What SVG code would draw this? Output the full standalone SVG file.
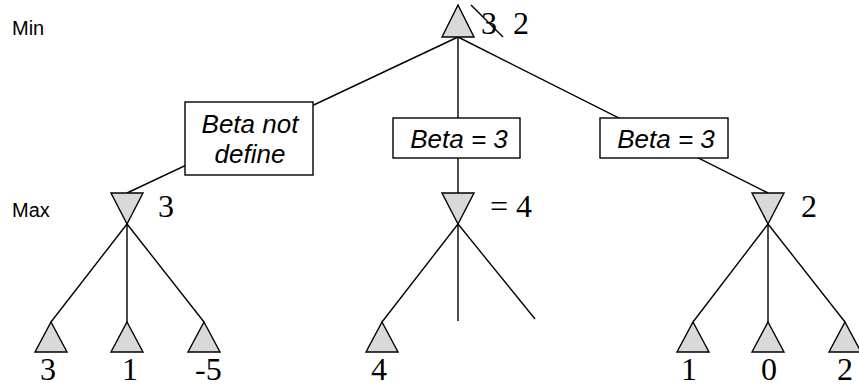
<svg xmlns="http://www.w3.org/2000/svg" width="859" height="387" viewBox="0 0 859 387">
<style>
.edge{stroke:#000;stroke-width:1.4;fill:none}
.tri{fill:#d9d9d9;stroke:#000;stroke-width:1.4;stroke-linejoin:miter}
.box{fill:#fff;stroke:#000;stroke-width:1.4}
.lab{font-family:"Liberation Sans",Arial,sans-serif;font-size:20px;fill:#000}
.bt{font-family:"Liberation Sans",Arial,sans-serif;font-style:italic;font-size:26px;fill:#000;text-anchor:middle}
.num{font-family:"Liberation Serif","Times New Roman",serif;font-size:32px;fill:#000}
</style>
<rect width="859" height="387" fill="#fff"/>
<text class="lab" x="12" y="35">Min</text>
<text class="lab" x="12" y="217">Max</text>
<g id="connectors">
<line class="edge" x1="458" y1="37" x2="127" y2="193"/>
<line class="edge" x1="458" y1="37" x2="458" y2="193"/>
<line class="edge" x1="458" y1="37" x2="768" y2="193"/>
<line class="edge" x1="127" y1="224" x2="51" y2="322"/>
<line class="edge" x1="127" y1="224" x2="127" y2="322"/>
<line class="edge" x1="127" y1="224" x2="204" y2="322"/>
<line class="edge" x1="458" y1="224" x2="382" y2="322"/>
<line class="edge" x1="458" y1="224" x2="458" y2="321"/>
<line class="edge" x1="458" y1="224" x2="535" y2="319"/>
<line class="edge" x1="768" y1="224" x2="693" y2="322"/>
<line class="edge" x1="768" y1="224" x2="768" y2="322"/>
<line class="edge" x1="768" y1="224" x2="845" y2="322"/>
</g>
<g id="box-left"><rect class="box" x="185" y="102" width="128" height="73"/><text class="bt" x="250" y="133">Beta not</text><text class="bt" x="250" y="163">define</text></g>
<g id="box-mid"><rect class="box" x="393" y="118" width="127" height="40"/><text class="bt" x="459" y="148">Beta = 3</text></g>
<g id="box-right"><rect class="box" x="600" y="118" width="128" height="40"/><text class="bt" x="666" y="148">Beta = 3</text></g>
<g id="root"><polygon class="tri" points="458,5 474,37 442,37"/><text class="num" x="481" y="34">3</text><line class="edge" x1="471" y1="5" x2="503" y2="37"/><text class="num" x="513" y="34">2</text></g>
<g id="max-left"><polygon class="tri" points="111,193 143,193 127,224"/><text class="num" x="158" y="217">3</text></g>
<g id="max-mid"><polygon class="tri" points="442,193 474,193 458,224"/><text class="num" x="490" y="217">= 4</text></g>
<g id="max-right"><polygon class="tri" points="752,193 784,193 768,224"/><text class="num" x="801" y="217">2</text></g>
<g id="leaf-1"><polygon class="tri" points="51,322 67,352 35,352"/><text class="num" x="40" y="380">3</text></g>
<g id="leaf-2"><polygon class="tri" points="127,322 143,352 111,352"/><text class="num" x="122" y="380">1</text></g>
<g id="leaf-3"><polygon class="tri" points="204,322 220,352 188,352"/><text class="num" x="195" y="380">-5</text></g>
<g id="leaf-4"><polygon class="tri" points="382,322 398,352 366,352"/><text class="num" x="371" y="380">4</text></g>
<g id="leaf-5"><polygon class="tri" points="693,322 709,352 677,352"/><text class="num" x="681" y="380">1</text></g>
<g id="leaf-6"><polygon class="tri" points="768,322 784,352 752,352"/><text class="num" x="761" y="380">0</text></g>
<g id="leaf-7"><polygon class="tri" points="845,322 861,352 829,352"/><text class="num" x="837" y="380">2</text></g>
</svg>
